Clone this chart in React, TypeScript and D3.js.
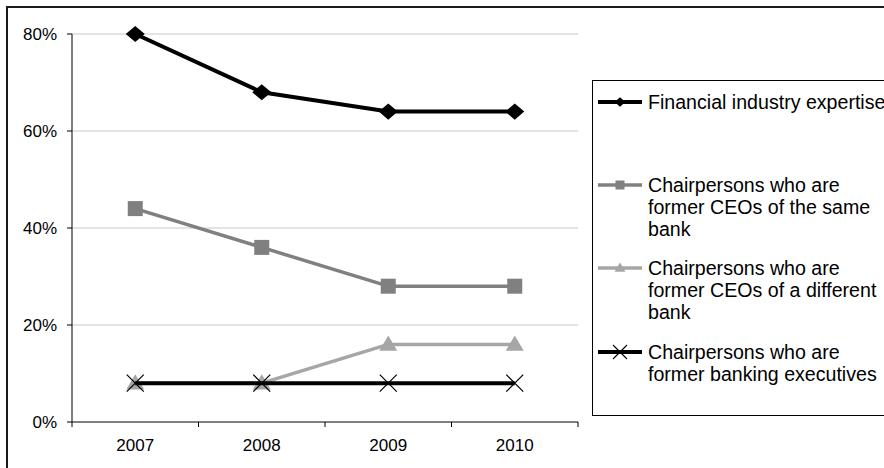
import React from "react";
import * as d3 from "d3";

const years = ["2007", "2008", "2009", "2010"];
const financialExpertise = [0.8, 0.68, 0.64, 0.64];
const formerCeoSameBank = [0.44, 0.36, 0.28, 0.28];
const formerCeoDifferentBank = [0.08, 0.08, 0.16, 0.16];
const formerBankingExecutives = [0.08, 0.08, 0.08, 0.08];
const yTicks = [0, 0.2, 0.4, 0.6, 0.8];

type Marker = "diamond" | "square" | "triangle" | "cross";

const series: { name: string[]; values: number[]; color: string; marker: Marker; width: number; legendY: number }[] = [
  { name: ["Financial industry expertise"], values: financialExpertise, color: "#000000", marker: "diamond", width: 4, legendY: 102 },
  { name: ["Chairpersons who are", "former CEOs of the same", "bank"], values: formerCeoSameBank, color: "#808080", marker: "square", width: 3.5, legendY: 185 },
  { name: ["Chairpersons who are", "former CEOs of a different", "bank"], values: formerCeoDifferentBank, color: "#a6a6a6", marker: "triangle", width: 3.5, legendY: 268 },
  { name: ["Chairpersons who are", "former banking executives"], values: formerBankingExecutives, color: "#000000", marker: "cross", width: 4, legendY: 352 },
];

const W = 884;
const H = 468;
const plot = { left: 72, right: 578, top: 34, bottom: 422 };

function MarkerShape({ type, x, y, s, color }: { type: Marker; x: number; y: number; s: number; color: string }) {
  if (type === "diamond") {
    return <path d={`M${x},${y - s * 0.85}L${x + s},${y}L${x},${y + s * 0.85}L${x - s},${y}Z`} fill={color} />;
  }
  if (type === "square") {
    return <rect x={x - s} y={y - s} width={2 * s} height={2 * s} fill={color} />;
  }
  if (type === "triangle") {
    return <path d={`M${x},${y - s}L${x + s},${y + s * 0.7}L${x - s},${y + s * 0.7}Z`} fill={color} />;
  }
  return (
    <path d={`M${x - s},${y - s}L${x + s},${y + s}M${x - s},${y + s}L${x + s},${y - s}`} stroke={color} strokeWidth={1.2} fill="none" />
  );
}

export default function App() {
  const x = d3.scaleBand<string>().domain(years).range([plot.left, plot.right]).padding(0);
  const y = d3.scaleLinear().domain([0, 0.8]).range([plot.bottom, plot.top]);
  const cx = (yr: string) => (x(yr) as number) + x.bandwidth() / 2;
  const line = d3
    .line<number>()
    .x((_, i) => cx(years[i]))
    .y((v) => y(v));
  const fmt = d3.format(".0%");
  const font = "Arial, 'Liberation Sans', sans-serif";
  const markerSize: Record<Marker, number> = { diamond: 9.5, square: 7.5, triangle: 9, cross: 8.5 };
  const legendMarker: Record<Marker, number> = { diamond: 5.5, square: 4.5, triangle: 5.5, cross: 7 };

  return (
    <svg width={W} height={H} style={{ position: "absolute", left: 0, top: 0, background: "#fff" }} fontFamily={font}>
      <rect x={0} y={0} width={W} height={H} fill="#fff" />
      {/* chart frame */}
      <path d={`M7,${H}V7H${W}`} fill="none" stroke="#1a1a1a" strokeWidth={2} />

      {/* gridlines */}
      {yTicks.filter((t) => t > 0).map((t) => (
        <line key={t} x1={plot.left} x2={plot.right} y1={y(t)} y2={y(t)} stroke="#c8c8c8" strokeWidth={1} />
      ))}

      {/* y axis */}
      <line x1={plot.left} x2={plot.left} y1={plot.top} y2={plot.bottom} stroke="#000" strokeWidth={1} />
      {yTicks.map((t) => (
        <g key={t}>
          <line x1={plot.left - 5} x2={plot.left} y1={y(t)} y2={y(t)} stroke="#000" />
          <text x={57} y={y(t)} dy="0.35em" textAnchor="end" fontSize={17} fill="#000">
            {fmt(t)}
          </text>
        </g>
      ))}

      {/* x axis */}
      <line x1={plot.left} x2={plot.right} y1={plot.bottom} y2={plot.bottom} stroke="#000" />
      <line x1={plot.left} x2={plot.left} y1={plot.bottom} y2={plot.bottom + 5} stroke="#000" />
      {years.map((yr) => (
        <line key={"t" + yr} x1={(x(yr) as number) + x.bandwidth()} x2={(x(yr) as number) + x.bandwidth()} y1={plot.bottom} y2={plot.bottom + 5} stroke="#000" />
      ))}
      {years.map((yr) => (
        <text key={yr} x={cx(yr)} y={445} dy="0.35em" textAnchor="middle" fontSize={17} fill="#000">
          {yr}
        </text>
      ))}

      {/* series */}
      {series.map((s, si) => (
        <g key={si}>
          <path d={line(s.values) || ""} fill="none" stroke={s.color} strokeWidth={s.width} strokeLinejoin="round" />
          {s.values.map((v, i) => (
            <MarkerShape key={i} type={s.marker} x={cx(years[i])} y={y(v)} s={markerSize[s.marker]} color={s.color} />
          ))}
        </g>
      ))}

      {/* legend */}
      <rect x={592.5} y={80.5} width={W} height={335} fill="#fff" stroke="#000" strokeWidth={1} />
      {series.map((s, si) => (
        <g key={"l" + si}>
          <line x1={598} x2={642} y1={s.legendY} y2={s.legendY} stroke={s.color} strokeWidth={s.width} />
          <MarkerShape type={s.marker} x={620} y={s.legendY} s={legendMarker[s.marker]} color={s.color} />
          {s.name.map((ln, li) => (
            <text key={li} x={648} y={s.legendY + li * 22} dy="0.35em" fontSize={19.6} fill="#000">
              {ln}
            </text>
          ))}
        </g>
      ))}
    </svg>
  );
}
